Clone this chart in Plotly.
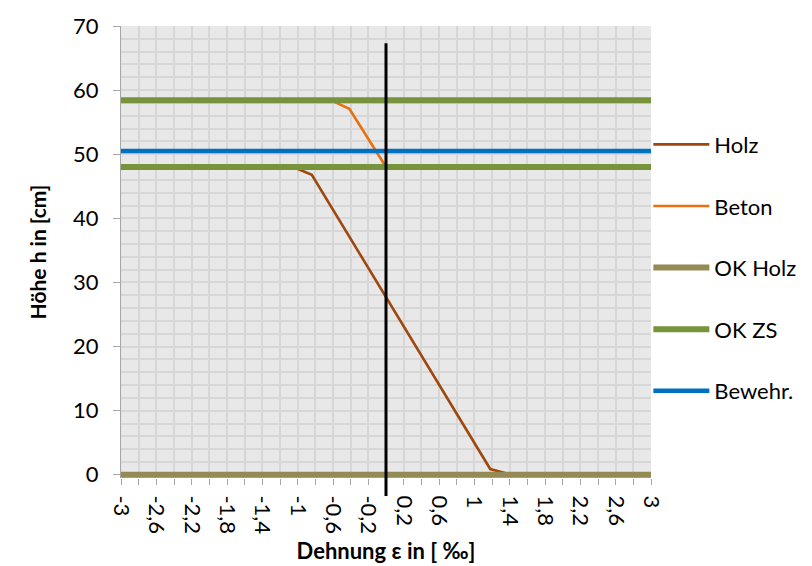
import plotly.graph_objects as go

# ---- data ----
holz_x = [-1.05, -0.84, 1.18, 1.42]
holz_y = [48.0, 46.8, 0.9, 0.0]

beton_x = [-0.62, -0.415, 0.0]
beton_y = [58.4, 57.1, 48.0]

ok_holz_x = [-3, 3]
ok_holz_y = [0, 0]

ok_zs_x = [-3, 3, None, -3, 3]
ok_zs_y = [58.4, 58.4, None, 48.0, 48.0]

bewehr_x = [-3, 3]
bewehr_y = [50.5, 50.5]

vline_x = 0.0
vline_y = [-3.3, 67.3]

x_tickvals = [-3, -2.6, -2.2, -1.8, -1.4, -1, -0.6, -0.2, 0.2, 0.6, 1, 1.4, 1.8, 2.2, 2.6, 3]
x_ticktext = ["-3", "-2,6", "-2,2", "-1,8", "-1,4", "-1", "-0,6", "-0,2",
              "0,2", "0,6", "1", "1,4", "1,8", "2,2", "2,6", "3"]
y_tickvals = [0, 10, 20, 30, 40, 50, 60, 70]
X_RANGE = [-3, 3]
Y_RANGE = [-0.5, 70]

FONT = "Lato"
GRID = "#D7D7D7"
AXC = "#A6A6A6"

fig = go.Figure()
traces = [
    ("Holz", holz_x, holz_y, "#9E480E", 2.6),
    ("Beton", beton_x, beton_y, "#E8710F", 2.6),
    ("OK Holz", ok_holz_x, ok_holz_y, "#948A54", 6),
    ("OK ZS", ok_zs_x, ok_zs_y, "#77933C", 6),
    ("Bewehr.", bewehr_x, bewehr_y, "#0070C0", 4.5),
]
for name, xs, ys, col, w in traces:
    fig.add_trace(go.Scatter(x=xs, y=ys, mode="lines", name=name, legendgroup=name,
                             line=dict(color=col, width=w), connectgaps=False))

ys_span = Y_RANGE[1] - Y_RANGE[0]
fig.add_shape(type="line", xref="x", yref="paper",
              x0=vline_x, x1=vline_x,
              y0=(vline_y[0] - Y_RANGE[0]) / ys_span,
              y1=(vline_y[1] - Y_RANGE[0]) / ys_span,
              line=dict(color="black", width=3), layer="above")

fig.update_layout(
    width=812, height=566,
    margin=dict(l=113, r=169, t=18, b=96),
    paper_bgcolor="white",
    plot_bgcolor="#E8E8E8",
    font=dict(family=FONT, size=22, color="black"),
    showlegend=True,
    legend=dict(x=0.995, xanchor="left", y=0.4655, yanchor="middle",
                tracegroupgap=30, itemwidth=56, font=dict(size=22, family=FONT),
                bgcolor="rgba(0,0,0,0)"),
    xaxis=dict(
        range=X_RANGE, tickmode="array", tickvals=x_tickvals, ticktext=x_ticktext,
        tickangle=90, ticks="outside", ticklen=6, tickcolor=AXC, ticklabelstandoff=6,
        showgrid=True, gridcolor=GRID, gridwidth=2,
        minor=dict(dtick=0.2, tick0=-3, showgrid=True, gridcolor=GRID, gridwidth=2,
                   ticks="outside", ticklen=6, tickcolor=AXC),
        showline=False, zeroline=False, automargin=False,
        tickfont=dict(size=22, family=FONT),
        title=dict(text="<b>Dehnung ε in [ ‰]</b>", font=dict(size=22, family=FONT), standoff=10),
    ),
    yaxis=dict(
        range=Y_RANGE, tickmode="array", tickvals=y_tickvals,
        ticks="outside", ticklen=7, tickcolor=AXC, ticklabelstandoff=10,
        showline=True, linecolor=AXC, linewidth=1,
        showgrid=True, gridcolor=GRID, gridwidth=2,
        minor=dict(dtick=2, tick0=0, showgrid=True, gridcolor=GRID, gridwidth=2),
        zeroline=False, automargin=False,
        tickfont=dict(size=22, family=FONT),
        title=dict(text="<b>Höhe h in [cm]</b>", font=dict(size=21, family=FONT), standoff=20),
    ),
)

fig.write_html("out.html")
